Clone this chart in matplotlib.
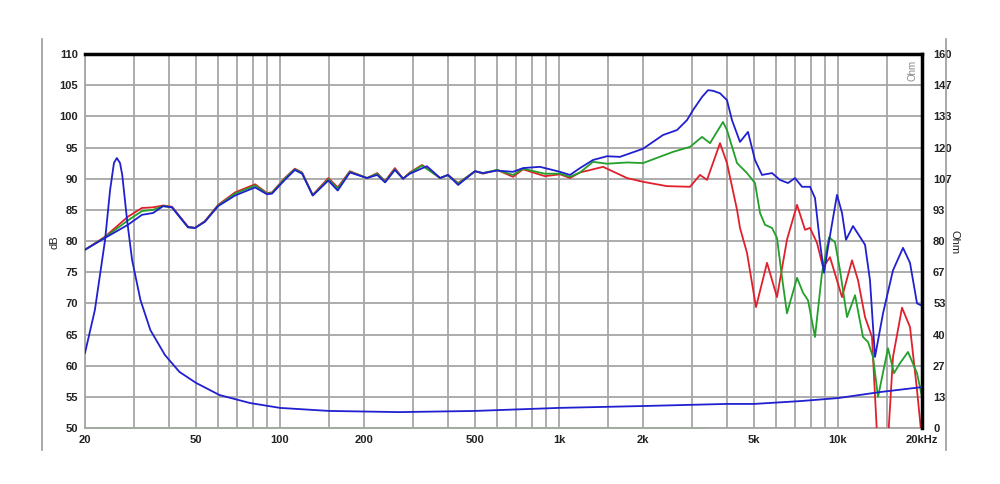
import matplotlib
matplotlib.use("Agg")
import matplotlib.pyplot as plt
from matplotlib.lines import Line2D

# frequency response (dB) of three curves + impedance (Ohm)
blue_freq = [20, 23.6, 28.5, 32, 35.1, 38.1, 41, 46.8, 49.6, 53.8, 60, 69, 81.4, 89.8, 93.6, 104, 113, 120,
             131, 149, 161, 178, 205, 223, 238, 258, 276, 292, 336, 375, 400, 435, 500, 534, 600, 684, 743,
             854, 1008, 1095, 1189, 1324, 1486, 1654, 2000, 2358, 2648, 2876, 3022, 3254, 3420, 3564, 3776,
             4000, 4168, 4453, 4758, 5040, 5340, 5800, 6194, 6618, 7012, 7430, 7936, 8270, 8618, 8908, 9208,
             9916, 10336, 10682, 11318, 12498, 13020, 13570, 14498, 15742, 17100, 18114, 19194, 20000]
blue_db = [78.6, 80.5, 82.6, 84.2, 84.5, 85.6, 85.4, 82.2, 82.1, 83.1, 85.6, 87.3, 88.6, 87.5, 87.6, 89.8, 91.4, 90.8,
           87.3, 89.7, 88.1, 91.0, 90.1, 90.6, 89.4, 91.4, 90.0, 90.8, 92.0, 90.1, 90.6, 89.0, 91.2, 90.9, 91.3, 91.1, 91.7,
           91.9, 91.1, 90.6, 91.7, 93.0, 93.6, 93.5, 94.8, 97.0, 97.8, 99.4, 101.0, 103.1, 104.2, 104.1, 103.7,
           102.6, 99.4, 95.9, 97.5, 93.0, 90.6, 90.9, 89.8, 89.3, 90.1, 88.7, 88.7, 86.9, 79.7, 74.9, 79.0,
           87.4, 84.5, 80.2, 82.4, 79.4, 73.7, 61.4, 68.4, 75.3, 78.9, 76.5, 70.0, 69.6]

red_freq = [20, 23.6, 28.5, 32, 35.1, 38.1, 41, 46.8, 49.6, 53.8, 60, 69, 81.4, 89.8, 93.6, 104, 113, 120,
            131, 149, 161, 178, 205, 223, 238, 258, 276, 292, 323, 375, 400, 435, 500, 534, 600, 684, 743,
            890, 1008, 1095, 1189, 1324, 1438, 1753, 2000, 2438, 2948, 3201, 3392, 3776, 4000, 4346, 4453,
            4718, 5082, 5566, 6044, 6562, 7130, 7616, 7936, 8408, 8836, 9360, 10336, 11226, 11796, 12498,
            13238, 13796, 14378, 15106, 15742, 16958, 18114, 19194, 20000]
red_db = [78.6, 80.7, 83.9, 85.3, 85.4, 85.7, 85.5, 82.3, 82.1, 83.2, 85.8, 87.8, 89.1, 87.7, 87.8, 90.1, 91.6, 91.0,
          87.4, 90.1, 88.6, 91.2, 90.1, 90.9, 89.6, 91.7, 90.0, 91.0, 92.2, 90.1, 90.6, 89.3, 91.2, 90.8, 91.4, 90.3, 91.5,
          90.4, 90.7, 90.1, 91.0, 91.5, 91.9, 90.1, 89.5, 88.8, 88.7, 90.6, 89.8, 95.7, 92.5, 85.0, 82.1,
          78.1, 69.4, 76.5, 71.0, 80.2, 85.8, 81.8, 82.1, 79.7, 75.8, 77.4, 71.0, 76.9, 73.7, 67.8,
          64.6, 49.0, 44.0, 48.0, 61.4, 69.3, 66.2, 56.1, 48.0]

green_freq = [20, 23.6, 28.5, 32, 35.1, 38.1, 41, 46.8, 49.6, 53.8, 60, 69, 81.4, 89.8, 93.6, 104, 113, 120,
              131, 149, 161, 178, 205, 223, 238, 258, 276, 292, 323, 375, 400, 435, 500, 534, 600, 684, 743,
              890, 1008, 1095, 1189, 1324, 1486, 1754, 2000, 2562, 2948, 3254, 3478, 3870, 4000, 4346, 4718,
              5040, 5254, 5474, 5800, 6044, 6298, 6562, 7130, 7492, 7806, 8270, 8762, 9284, 9754, 10166,
              10772, 11508, 12292, 12812, 13348, 13914, 15106, 15872, 16680, 17818, 19194, 20000]
green_db = [78.6, 80.6, 83.3, 84.8, 85.0, 85.6, 85.4, 82.2, 82.1, 83.1, 85.7, 87.6, 88.9, 87.6, 87.7, 90.0, 91.5, 90.9,
            87.3, 89.9, 88.4, 91.1, 90.1, 90.8, 89.5, 91.5, 90.0, 90.9, 92.1, 90.1, 90.6, 89.2, 91.2, 90.9, 91.4, 90.6, 91.6,
            90.8, 90.8, 90.3, 91.0, 92.7, 92.4, 92.6, 92.5, 94.3, 95.1, 96.7, 95.7, 99.1, 97.8, 92.5, 90.9,
            89.3, 84.5, 82.6, 82.1, 80.5, 74.2, 68.4, 74.1, 71.7, 70.5, 64.6, 74.9, 80.6, 79.8, 75.3,
            67.8, 71.3, 64.6, 63.8, 61.4, 55.0, 62.8, 58.8, 60.4, 62.2, 58.8, 55.0]

imp_freq = [20, 21.7, 23.6, 24.6, 25.4, 26.0, 26.7, 27.2, 28.3, 29.5, 31.6, 34.3, 38.7, 43.6, 50, 60.7, 78,
            100, 150, 268, 500, 1000, 2000, 4000, 5000, 7300, 10000, 14200, 20000]
imp_ohm = [32.1, 50.5, 80.4, 101.8, 113.4, 115.5, 113.4, 108.2, 89.0, 71.9, 54.8, 41.9, 31.2, 24.0, 19.3, 14.1, 10.7,
           8.6, 7.3, 6.8, 7.3, 8.6, 9.4, 10.3, 10.3, 11.5, 12.8, 15.4, 17.5]

ref_freq = [20, 3330]
ref_db = [50, 50]

grid_freqs = [20, 30, 40, 50, 60, 70, 80, 90, 100, 150, 200, 300, 400, 500, 600, 700, 800, 900,
              1000, 1500, 2000, 3000, 4000, 5000, 6000, 7000, 8000, 9000, 10000, 15000, 20000]
xtick_freqs = [20, 50, 100, 200, 500, 1000, 2000, 5000, 10000, 20000]
xtick_labels = ["20", "50", "100", "200", "500", "1k", "2k", "5k", "10k", "20kHz"]
db_ticks = [50, 55, 60, 65, 70, 75, 80, 85, 90, 95, 100, 105, 110]
ohm_labels = ["0", "13", "27", "40", "53", "67", "80", "93", "107", "120", "133", "147", "160"]

plt.rcParams["font.family"] = ["Liberation Sans", "DejaVu Sans"]

fig = plt.figure(figsize=(10, 4.84), dpi=100)
ax = fig.add_axes([0.085, 0.1157, 0.837, 0.7727])
ax.set_xscale("log")
ax.set_xlim(20, 20000)
ax.set_ylim(50, 110)

for f in grid_freqs:
    ax.axvline(f, color="#a6a6a6", lw=1.3, zorder=1)
for d in db_ticks:
    ax.axhline(d, color="#a6a6a6", lw=1.3, zorder=1)

ax.plot(ref_freq, ref_db, color="#8fe08f", lw=1.5, zorder=2, clip_on=False)
ax.plot(red_freq, red_db, color="#e0202a", lw=1.3, zorder=3)
ax.plot(green_freq, green_db, color="#22a02a", lw=1.3, zorder=4)
ax.plot(blue_freq, blue_db, color="#2020d0", lw=1.3, zorder=5)

ax.set_xticks(xtick_freqs)
ax.set_xticklabels(xtick_labels)
ax.xaxis.set_minor_locator(matplotlib.ticker.NullLocator())
ax.set_yticks(db_ticks)
ax.tick_params(length=0, labelsize=8, colors="#222222", pad=5)
for lbl in ax.get_xticklabels() + ax.get_yticklabels():
    lbl.set_fontweight("bold")

for side in ["left", "bottom"]:
    ax.spines[side].set_color("#a6a6a6")
    ax.spines[side].set_linewidth(1.3)
for side in ["top", "right"]:
    ax.spines[side].set_color("black")
    ax.spines[side].set_linewidth(2.5)
    ax.spines[side].set_zorder(6)

ax2 = ax.twinx()
ax2.set_ylim(0, 160)
ax2.plot(imp_freq, imp_ohm, color="#2020d0", lw=1.3, zorder=5)
ax2.set_yticks([i * 160 / 12 for i in range(13)])
ax2.set_yticklabels(ohm_labels)
ax2.tick_params(length=0, labelsize=8, colors="#222222", pad=8)
for lbl in ax2.get_yticklabels():
    lbl.set_fontweight("bold")
for s in ax2.spines.values():
    s.set_visible(False)

fig.text(0.055, 0.5, "dB", rotation=90, ha="center", va="center", fontsize=8, color="#222222")
fig.text(0.955, 0.5, "Ohm", rotation=-90, ha="center", va="center", fontsize=8, color="#222222")
fig.text(0.912, 0.855, "Ohm", rotation=90, ha="center", va="center", fontsize=7, color="#888888")

fig.add_artist(Line2D([0.042, 0.042], [0.07, 0.92], transform=fig.transFigure, color="#999999", lw=1.2))
fig.add_artist(Line2D([0.946, 0.946], [0.07, 0.92], transform=fig.transFigure, color="#999999", lw=1.2))

fig.savefig("out.png", dpi=100)
